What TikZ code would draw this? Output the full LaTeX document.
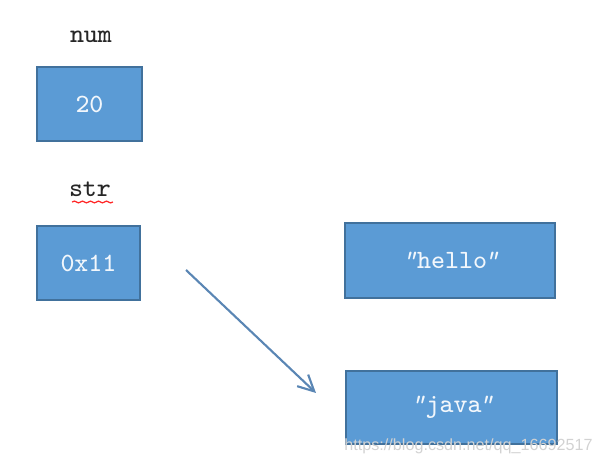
\documentclass[tikz,border=0pt]{standalone}
\usepackage{fontspec}
\newfontfamily\wmfont{Liberation Sans}
\usetikzlibrary{arrows.meta, positioning, decorations.pathmorphing}
\definecolor{cellblue}{RGB}{91,155,213}
\definecolor{cellborder}{RGB}{65,113,156}
\definecolor{ptrblue}{RGB}{90,134,180}
\newcommand{\slql}{{\itshape"}\kern0.05em}
\newcommand{\slqr}{\kern-0.12em{\itshape"}}

\begin{document}
\begin{tikzpicture}[
    cell/.style={rectangle, draw=cellborder, fill=cellblue, line width=0.5pt,
                inner sep=0pt, align=center, text=white!92!cellblue,
                font=\ttfamily\fontsize{7.5}{9}\selectfont},
    varname/.style={font=\ttfamily\fontsize{7.5}{9}\selectfont, text=black!85},
    arrow/.style={-{Straight Barb[length=1.6mm, width=1.6mm]}, line width=0.6pt, ptrblue}
]
\useasboundingbox (0,0) rectangle (5.99,4.67);

% stack: variables
\node[cell, minimum width=1.05cm, minimum height=0.74cm] (num) at (0.895,3.63) {20};
\node[varname] (numname) at (0.91,4.30) {num};
\node[cell, minimum width=1.03cm, minimum height=0.74cm] (addr) at (0.885,2.04) {0x11};
\node[varname] (strname) at (0.90,2.78) {str};
\draw[red!85, line width=0.35pt, decorate, decoration={snake, amplitude=0.25pt, segment length=0.8mm}]
    (0.72,2.65) -- (1.13,2.65);

% heap: string objects
\node[cell, minimum width=2.10cm, minimum height=0.75cm] (hello) at (4.50,2.065) {\slql hello\slqr};
\node[cell, minimum width=2.11cm, minimum height=0.73cm] (java) at (4.515,0.595) {\slql java\slqr};

% reference
\coordinate (ptrtail) at (1.86,1.97);
\coordinate (ptrhead) at (3.16,0.74);
\draw[arrow] (ptrtail) -- (ptrhead);

\node[font=\wmfont\fontsize{4.6}{5}\selectfont, text=gray!35, inner sep=0pt] (mark) at (4.685,0.21)
    {https://blog.csdn.net/qq\_16692517};
\end{tikzpicture}
\end{document}
